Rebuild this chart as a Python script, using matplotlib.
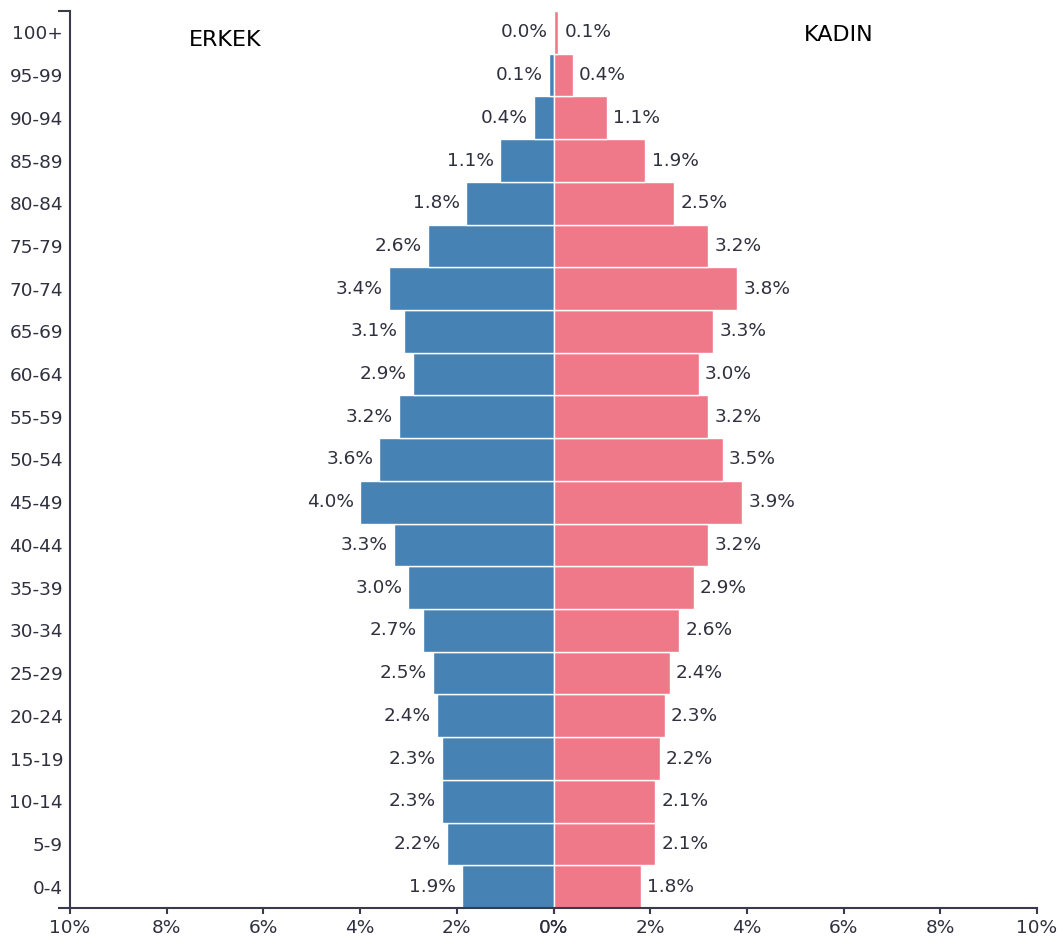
import matplotlib

matplotlib.use("Agg")
import matplotlib.pyplot as plt

# Age groups, bottom to top
AGES = [
    "0-4", "5-9", "10-14", "15-19", "20-24", "25-29", "30-34", "35-39",
    "40-44", "45-49", "50-54", "55-59", "60-64", "65-69", "70-74",
    "75-79", "80-84", "85-89", "90-94", "95-99", "100+",
]
# Share of population (%), same order as AGES
ERKEK = [1.9, 2.2, 2.3, 2.3, 2.4, 2.5, 2.7, 3.0, 3.3, 4.0, 3.6, 3.2,
         2.9, 3.1, 3.4, 2.6, 1.8, 1.1, 0.4, 0.1, 0.0]
KADIN = [1.8, 2.1, 2.1, 2.2, 2.3, 2.4, 2.6, 2.9, 3.2, 3.9, 3.5, 3.2,
         3.0, 3.3, 3.8, 3.2, 2.5, 1.9, 1.1, 0.4, 0.1]
X_TICKS = [-10, -8, -6, -4, -2, 0, 0, 2, 4, 6, 8, 10]

C_MALE = "#4682b4"
C_FEMALE = "#ef7988"
C_AXIS = "#3a3a4a"
C_TEXT = "#30303f"

plt.rcParams["font.family"] = ["DejaVu Sans"]

W, H = 1063, 944
fig = plt.figure(figsize=(W / 100, H / 100), dpi=100)
ax = fig.add_axes([70 / W, (H - 908) / H, 967 / W, 897 / H])

y = list(range(len(AGES)))
male_neg = [-v for v in ERKEK]
ax.barh(y, male_neg, height=1.0, color=C_MALE, edgecolor="white", linewidth=1.0)
ax.barh(y, KADIN, height=1.0, color=C_FEMALE, edgecolor="white", linewidth=1.0)

for yi, v in zip(y, ERKEK):
    ax.annotate(f"{v:.1f}%", (-v, yi), xytext=(-4.5, 0), textcoords="offset points",
                ha="right", va="center", fontsize=13.3, color=C_TEXT)
for yi, v in zip(y, KADIN):
    ax.annotate(f"{v:.1f}%", (v, yi), xytext=(4.5, 0), textcoords="offset points",
                ha="left", va="center", fontsize=13.3, color=C_TEXT)

ax.set_xlim(-10, 10)
ax.set_ylim(-0.5, len(AGES) - 0.5)

ax.set_yticks(y)
ax.set_yticklabels(AGES, fontsize=13.3, color=C_TEXT)
ax.tick_params(axis="y", length=0, pad=5)
# outer ticks at the ends of the y domain
ax.set_yticks([-0.5, len(AGES) - 0.5], minor=True)
ax.tick_params(axis="y", which="minor", length=9, width=1.5, color=C_AXIS)

ax.set_xticks(X_TICKS)
ax.set_xticklabels([f"{abs(t)}%" for t in X_TICKS], fontsize=13.3, color=C_TEXT)
ax.tick_params(axis="x", length=4, width=1.5, color=C_AXIS, pad=4)

for side in ("top", "right"):
    ax.spines[side].set_visible(False)
for side in ("left", "bottom"):
    ax.spines[side].set_color(C_AXIS)
    ax.spines[side].set_linewidth(1.5)

# panel titles, placed in pixel coords measured from the top
ax.text(225, H - 40, "ERKEK", transform=None, fontsize=16, color="black",
        ha="center", va="center")
ax.text(839, H - 35, "KADIN", transform=None, fontsize=16, color="black",
        ha="center", va="center")

fig.savefig("out.png", dpi=100)
